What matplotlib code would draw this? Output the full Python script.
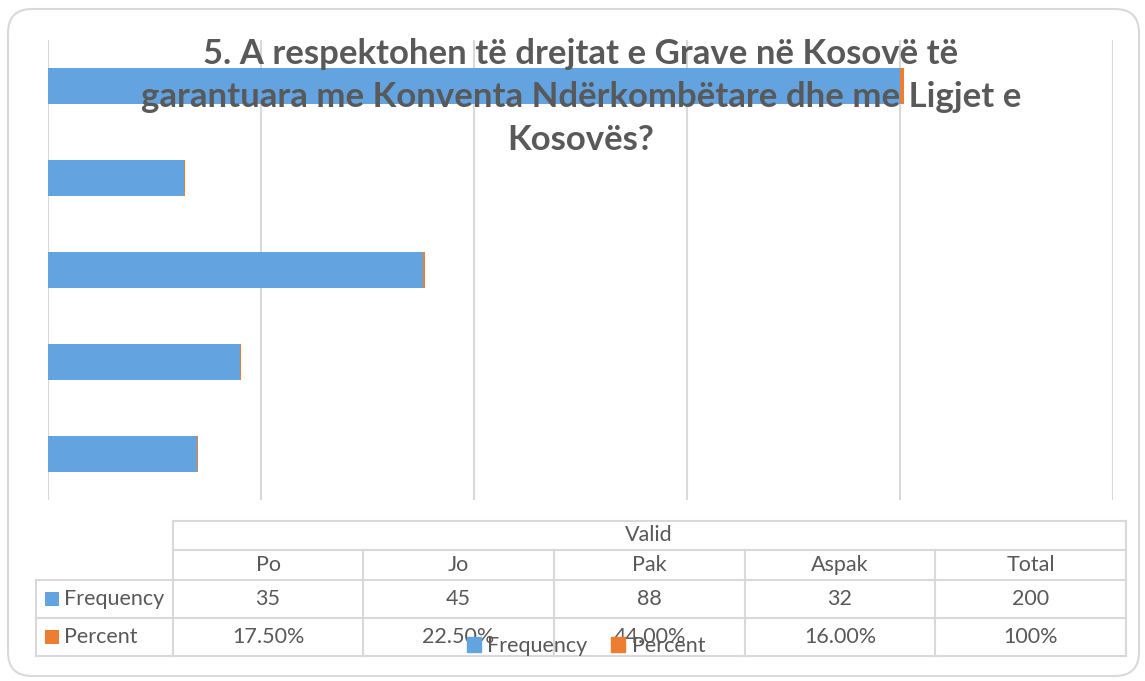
import matplotlib
matplotlib.use('Agg')
import matplotlib.pyplot as plt
import matplotlib.patches as mpatches
from matplotlib.transforms import IdentityTransform

W, H = 1145, 681

title = "5. A respektohen të drejtat e Grave në Kosovë të\ngarantuara me Konventa Ndërkombëtare dhe me Ligjet e\nKosovës?"
group_label = 'Valid'
categories = ['Po', 'Jo', 'Pak', 'Aspak', 'Total']
frequency = [35, 45, 88, 32, 200]
percent = [0.175, 0.225, 0.44, 0.16, 1.0]
percent_labels = ['17.50%', '22.50%', '44.00%', '16.00%', '100%']
series_names = ['Frequency', 'Percent']

BLUE = '#62A3E0'
ORANGE = '#ED7D31'
TEXT = '#595959'
GRID = '#D9D9D9'
FONT = 'Lato'


def fx(x):
    return x / W


def fy(y):
    return 1 - y / H


fig = plt.figure(figsize=(W / 100, H / 100), dpi=100)

# outer rounded border
border = mpatches.FancyBboxPatch((8, 5), 1131, 667,
                                 boxstyle='round,pad=0,rounding_size=24',
                                 transform=IdentityTransform(),
                                 facecolor='none', edgecolor=GRID, linewidth=1.5,
                                 zorder=-1)
fig.add_artist(border)

ax = fig.add_axes([fx(48), fy(500), fx(1113) - fx(48), fy(40) - fy(500)])
ax.patch.set_alpha(0)
ypos = list(range(len(categories)))
ax.barh(ypos, frequency, height=0.39, color=BLUE, zorder=2)
ax.barh(ypos, percent, left=frequency, height=0.39, color=ORANGE, zorder=2)
ax.set_xlim(0, 250)
ax.set_ylim(-0.5, len(categories) - 0.5)
ax.set_xticks(range(0, 251, 50))
ax.set_yticks([])
ax.tick_params(axis='x', length=0, labelbottom=False)
ax.grid(axis='x', color=GRID, linewidth=1.5, zorder=0)
for s in ax.spines.values():
    s.set_visible(False)

# title
fig.text(fx(581), fy(38), title, ha='center', va='top', fontsize=25,
         fontweight='bold', color=TEXT, family=FONT, linespacing=1.42, zorder=5)

# data table
line_kw = dict(color=GRID, linewidth=1.5, transform=fig.transFigure)
col_edges = [173, 363, 554, 745, 935, 1126]


def hline(y, x0, x1):
    fig.add_artist(plt.Line2D([fx(x0), fx(x1)], [fy(y), fy(y)], **line_kw))


def vline(x, y0, y1):
    fig.add_artist(plt.Line2D([fx(x), fx(x)], [fy(y0), fy(y1)], **line_kw))


hline(521, 173, 1126)
hline(550, 173, 1126)
for y in (580, 618, 656):
    hline(y, 36, 1126)
vline(173, 521, 656)
vline(1126, 521, 656)
vline(36, 580, 656)
for x in col_edges[1:-1]:
    vline(x, 550, 656)

FS = 15.5
txt_kw = dict(ha='center', va='center', fontsize=FS, color=TEXT, family=FONT)
fig.text(fx(649), fy(535), group_label, **txt_kw)
for i, cat in enumerate(categories):
    cx = (col_edges[i] + col_edges[i + 1]) / 2
    fig.text(fx(cx), fy(565), cat, **txt_kw)
    fig.text(fx(cx), fy(599), str(frequency[i]), **txt_kw)
    fig.text(fx(cx), fy(637), percent_labels[i], **txt_kw)

for name, col, yc in [(series_names[0], BLUE, 599), (series_names[1], ORANGE, 637)]:
    fig.add_artist(mpatches.Rectangle((fx(45), fy(yc + 7)), fx(14), 14 / H,
                                      facecolor=col, edgecolor='none',
                                      transform=fig.transFigure))
    fig.text(fx(64), fy(yc), name, ha='left', va='center', fontsize=FS,
             color=TEXT, family=FONT)

# legend
handles = [mpatches.Patch(color=BLUE), mpatches.Patch(color=ORANGE)]
leg = fig.legend(handles, series_names, loc='center', bbox_to_anchor=(fx(586), fy(646)),
                 ncol=2, frameon=False, handlelength=0.65, handleheight=0.65,
                 handletextpad=0.3, columnspacing=1.1,
                 prop={'family': FONT, 'size': FS})
for t in leg.get_texts():
    t.set_color(TEXT)

fig.savefig('out.png', dpi=100)
